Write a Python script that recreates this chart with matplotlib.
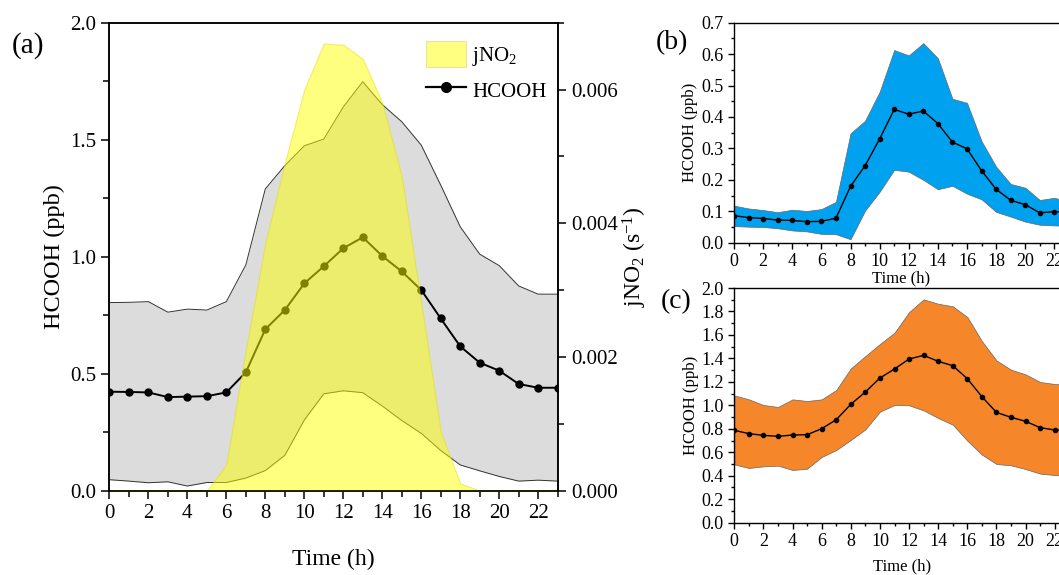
import matplotlib
matplotlib.use("Agg")
import matplotlib.pyplot as plt
from matplotlib.ticker import MultipleLocator, FormatStrFormatter
from matplotlib.lines import Line2D
from matplotlib.patches import Patch

plt.rcParams['font.family'] = 'Liberation Serif'
plt.rcParams['mathtext.fontset'] = 'custom'
plt.rcParams['mathtext.rm'] = 'Liberation Serif'
plt.rcParams['mathtext.it'] = 'Liberation Serif:italic'

# Hour of day
hours = list(range(24))

# Panel (a): HCOOH mean with range, and jNO2
a_mean = [0.423, 0.422, 0.420, 0.400, 0.402, 0.404, 0.420, 0.506, 0.690, 0.772, 0.886, 0.959,
          1.036, 1.083, 1.003, 0.937, 0.858, 0.736, 0.617, 0.547, 0.513, 0.456, 0.440, 0.440]
a_upper = [0.804, 0.805, 0.808, 0.763, 0.776, 0.772, 0.808, 0.965, 1.290, 1.389, 1.474, 1.503,
           1.640, 1.748, 1.650, 1.577, 1.477, 1.306, 1.128, 1.011, 0.962, 0.875, 0.840, 0.840]
a_lower = [0.047, 0.041, 0.034, 0.038, 0.020, 0.035, 0.035, 0.054, 0.086, 0.151, 0.302, 0.414,
           0.427, 0.419, 0.362, 0.300, 0.245, 0.172, 0.110, 0.085, 0.061, 0.041, 0.045, 0.041]
jno2 = [0, 0, 0, 0, 0, 0, 0.00039, 0.0021, 0.0037, 0.0049, 0.0060, 0.00669,
        0.00667, 0.00646, 0.0058, 0.0047, 0.0028, 0.00088, 0.00011, 0, 0, 0, 0, 0]

# Panel (b)
b_mean = [0.086, 0.080, 0.077, 0.072, 0.071, 0.067, 0.068, 0.078, 0.179, 0.245, 0.330, 0.424,
          0.409, 0.419, 0.379, 0.320, 0.299, 0.229, 0.170, 0.135, 0.121, 0.095, 0.099, 0.097]
b_upper = [0.118, 0.109, 0.104, 0.097, 0.105, 0.101, 0.107, 0.130, 0.348, 0.388, 0.480, 0.613,
           0.596, 0.635, 0.587, 0.458, 0.445, 0.323, 0.242, 0.187, 0.175, 0.136, 0.143, 0.130]
b_lower = [0.053, 0.051, 0.050, 0.046, 0.039, 0.036, 0.028, 0.027, 0.011, 0.102, 0.162, 0.232,
           0.226, 0.200, 0.170, 0.181, 0.156, 0.138, 0.098, 0.083, 0.067, 0.057, 0.055, 0.054]

# Panel (c)
c_mean = [0.787, 0.759, 0.744, 0.736, 0.747, 0.750, 0.801, 0.878, 1.009, 1.114, 1.233, 1.310,
          1.395, 1.426, 1.375, 1.338, 1.227, 1.074, 0.940, 0.898, 0.864, 0.810, 0.790, 0.785]
c_upper = [1.085, 1.051, 1.003, 0.986, 1.051, 1.037, 1.051, 1.131, 1.315, 1.420, 1.523, 1.619,
           1.795, 1.903, 1.866, 1.844, 1.753, 1.548, 1.383, 1.304, 1.264, 1.199, 1.182, 1.175]
c_lower = [0.497, 0.466, 0.480, 0.486, 0.449, 0.460, 0.560, 0.619, 0.705, 0.795, 0.946, 1.003,
           1.000, 0.957, 0.892, 0.835, 0.699, 0.580, 0.500, 0.489, 0.457, 0.418, 0.406, 0.400]

fig = plt.figure(figsize=(10.59, 5.75), dpi=100)


def style_axis(ax, size, major_len, minor_len, width):
    ax.tick_params(which='both', direction='out', width=width, labelsize=size, top=False)
    ax.tick_params(which='major', length=major_len)
    ax.tick_params(which='minor', length=minor_len)
    for s in ax.spines.values():
        s.set_linewidth(width)


# ---- panel (a)
ax = fig.add_axes([0.1033, 0.1466, 0.4233, 0.8139])
ax.fill_between(hours, a_lower, a_upper, color='#dcdcdc', lw=0)
ax.plot(hours, a_upper, color='#333333', lw=0.7)
ax.plot(hours, a_lower, color='#333333', lw=0.7)
ax.plot(hours, a_mean, color='black', marker='o', ms=5, lw=1.4)
ax.set_xlim(0, 23)
ax.set_ylim(0, 2.0)
ax.xaxis.set_major_locator(MultipleLocator(2))
ax.xaxis.set_minor_locator(MultipleLocator(1))
ax.yaxis.set_major_locator(MultipleLocator(0.5))
ax.yaxis.set_minor_locator(MultipleLocator(0.25))
ax.yaxis.set_major_formatter(FormatStrFormatter('%.1f'))
ax.set_xlabel('Time (h)', fontsize=17, labelpad=19)
ax.set_ylabel('HCOOH (ppb)', fontsize=17.5, labelpad=4)
style_axis(ax, 15, 6, 4, 1.1)

ax2 = ax.twinx()
ax2.fill_between(hours, 0, jno2, color='#ffff00', alpha=0.5, edgecolor='#e0e000', lw=0.8)
ax2.set_ylim(0, 0.007)
ax2.yaxis.set_major_locator(MultipleLocator(0.002))
ax2.yaxis.set_minor_locator(MultipleLocator(0.001))
ax2.yaxis.set_major_formatter(FormatStrFormatter('%.3f'))
ax2.set_ylabel('jNO$_2$ (s$^{-1}$)', fontsize=17, labelpad=2)
style_axis(ax2, 15, 6, 4, 1.1)

handles = [Patch(facecolor='#ffff80', edgecolor='#e6e6a0', lw=0.8),
           Line2D([], [], color='black', marker='o', ms=7, lw=1.6)]
ax2.legend(handles, ['jNO$_2$', 'HCOOH'], loc='upper right', bbox_to_anchor=(0.975, 0.96),
           frameon=False, fontsize=15, borderpad=0, borderaxespad=0, handlelength=1.9,
           handleheight=1.5, handletextpad=0.3, labelspacing=0.45)
fig.text(28 / 1059, 0.921, '(a)', fontsize=21, ha='center', va='center')


# ---- panels (b) and (c)
def small_panel(rect, mean, lower, upper, color, ymax, major, label, label_pos, xpad):
    axs = fig.add_axes(rect)
    axs.fill_between(hours, lower, upper, color=color, edgecolor='#666666', lw=0.5)
    axs.plot(hours, mean, color='black', marker='o', ms=3, lw=1.0)
    axs.set_xlim(0, 23)
    axs.set_ylim(0, ymax)
    axs.xaxis.set_major_locator(MultipleLocator(2))
    axs.xaxis.set_minor_locator(MultipleLocator(1))
    axs.yaxis.set_major_locator(MultipleLocator(major))
    axs.yaxis.set_minor_locator(MultipleLocator(major / 2))
    axs.yaxis.set_major_formatter(FormatStrFormatter('%.1f'))
    axs.set_xlabel('Time (h)', fontsize=12, labelpad=xpad)
    axs.set_ylabel('HCOOH (ppb)', fontsize=12, labelpad=2)
    style_axis(axs, 13, 4, 2.5, 1.0)
    fig.text(label_pos[0], label_pos[1], label, fontsize=20, ha='center', va='center')
    return axs


small_panel([0.6931, 0.5779, 0.3163, 0.3826], b_mean, b_lower, b_upper, '#00a2f0',
            0.7, 0.1, '(b)', (672 / 1059, 0.926), 0)
small_panel([0.6934, 0.0910, 0.3163, 0.4081], c_mean, c_lower, c_upper, '#f5862a',
            2.0, 0.2, '(c)', (676 / 1059, 0.476), 6)

fig.savefig('out.png', dpi=100)
